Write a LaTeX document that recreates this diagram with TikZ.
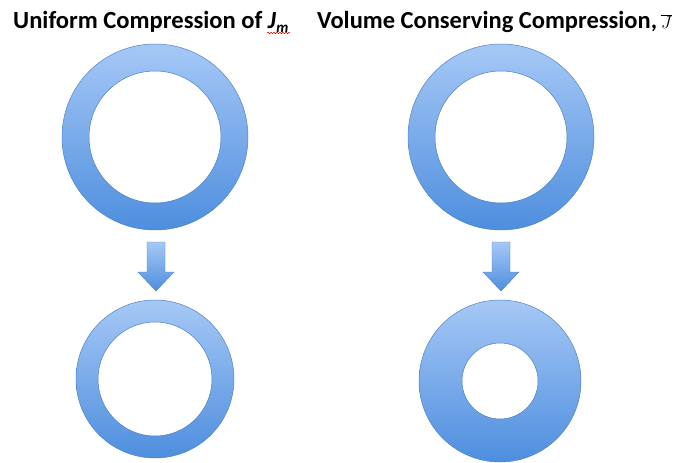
\documentclass[tikz,border=0pt]{standalone}
\usepackage{fontspec}
\setmainfont{Carlito}
\usetikzlibrary{decorations.pathmorphing,calc}
\definecolor{ringtop}{RGB}{166,200,246}
\definecolor{ringbot}{RGB}{78,142,222}
\definecolor{ringline}{RGB}{80,130,195}
\tikzset{
  ring/.style={draw=ringline, line width=0.5pt, top color=ringtop, bottom color=ringbot, even odd rule},
  blockarrow/.style={draw=ringline, line width=0.4pt, top color=ringtop, bottom color=ringbot},
  title/.style={anchor=base west, inner sep=0pt, font=\bfseries},
}
\begin{document}
\begin{tikzpicture}[x=1pt,y=-1pt]
\useasboundingbox (0,0) rectangle (683,463);
% titles
\node[title] (t1) at (13,28) {\fontsize{24.6}{28}\selectfont Uniform Compression of \textit{J}\raisebox{-0.35ex}{\fontsize{15}{16}\selectfont\textit{m}}};
\node[title] (t2) at (317,28) {\fontsize{24.5}{28}\selectfont Volume Conserving Compression,\,{\mdseries\fontsize{18.5}{20}\selectfont$\overline{J}$}};
\draw[red!85!black, line width=0.5pt, decorate, decoration={snake, amplitude=0.8pt, segment length=3pt}] (267,33) -- (290,33);
% ring centres
\coordinate (c1) at (155,137);
\coordinate (c2) at (501,137);
\coordinate (c3) at (155,379);
\coordinate (c4) at (500,381);
% rings
\path[ring] (c1) circle[radius=93] (c1) circle[radius=66];
\path[ring] (c2) circle[radius=93] (c2) circle[radius=66];
\path[ring] (c3) circle[radius=79] (c3) circle[radius=57];
\path[ring] (c4) circle[radius=81] (c4) circle[radius=38];
% block arrows
\coordinate (a1) at (156,242);
\coordinate (a2) at (501,242);
\foreach \a in {a1,a2}{
  \path[blockarrow] ($(\a)+(-9,0)$) -- ($(\a)+(9,0)$) -- ($(\a)+(9,30)$) -- ($(\a)+(18,30)$)
    -- ($(\a)+(0,49)$) -- ($(\a)+(-18,30)$) -- ($(\a)+(-9,30)$) -- cycle;
}
\end{tikzpicture}
\end{document}
